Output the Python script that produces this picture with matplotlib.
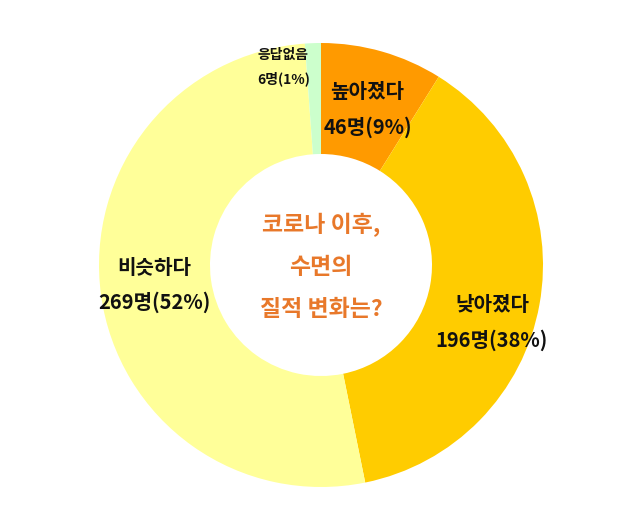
import matplotlib
matplotlib.use("Agg")
import matplotlib.pyplot as plt

plt.rcParams['font.family'] = ['Noto Sans CJK KR', 'DejaVu Sans']

labels = ['높아졌다', '낮아졌다', '비슷하다', '응답없음']
counts = [46, 196, 269, 6]
pcts = [9, 38, 52, 1]
colors = ['#FF9A00', '#FFCC00', '#FFFF99', '#CCFFCC']
center_title = '코로나 이후,\n수면의\n질적 변화는?'

fig = plt.figure(figsize=(6.4, 5.3), dpi=100)
ax = fig.add_axes([(321 - 222) / 640, (265 - 222) / 530, 444 / 640, 444 / 530])

ax.pie(counts, colors=colors, startangle=90, counterclock=False,
       radius=1.0, wedgeprops=dict(width=0.5, edgecolor='none'))
ax.set_xlim(-1, 1)
ax.set_ylim(-1, 1)
ax.set_aspect('equal')
ax.axis('off')

# label positions in axes data coords (radius units)
pos = [(0.21, 0.70), (0.77, -0.26), (-0.75, -0.09), (-0.17, 0.89)]
sizes = [14.5, 14.5, 14.5, 10]
for lab, n, p, (x, y), fs in zip(labels, counts, pcts, pos, sizes):
    ax.text(x, y, f'{lab}\n{n}명({p}%)', ha='center', va='center',
            fontsize=fs, fontweight='bold', linespacing=1.8, color='#111111')

ax.text(0, -0.01, center_title, ha='center', va='center', fontsize=16.5,
        fontweight='bold', color='#E8782A', linespacing=2.05)

fig.savefig('out.png', dpi=100, facecolor='white')
